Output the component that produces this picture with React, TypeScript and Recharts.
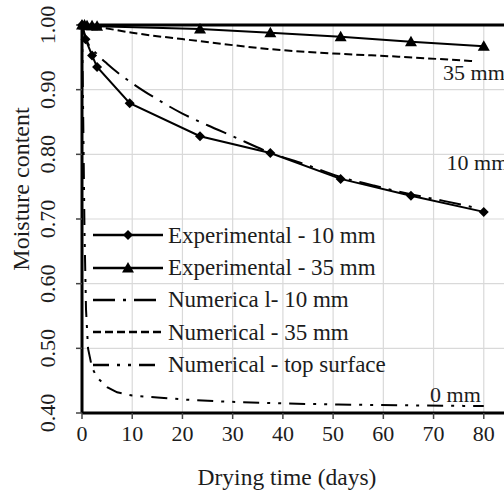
import React from 'react';
import {
  LineChart, Line, XAxis, YAxis, CartesianGrid, ReferenceLine, ReferenceDot,
} from 'recharts';

// drying time (days) and moisture content
const exp10Days = [0, 0.7, 2, 3, 9.5, 23.5, 37.5, 51.5, 65.5, 80];
const exp10Moisture = [1.0, 0.978, 0.953, 0.935, 0.879, 0.828, 0.802, 0.762, 0.736, 0.711];

const exp35Days = [0, 0.5, 1, 2, 3, 23.5, 37.5, 51.5, 65.5, 80];
const exp35Moisture = [1.0, 1.0, 0.999, 0.999, 0.998, 0.994, 0.988, 0.982, 0.974, 0.967];

const num10Days = [0, 1, 3, 5, 10, 15, 20, 25, 30, 37, 45, 51, 58, 65, 72, 78];
const num10Moisture = [1.0, 0.975, 0.955, 0.94, 0.91, 0.885, 0.863, 0.845, 0.828, 0.804, 0.783, 0.766, 0.752, 0.739, 0.728, 0.718];

const num35Days = [0, 3, 10, 23.5, 37, 50, 63, 78];
const num35Moisture = [1.0, 0.997, 0.988, 0.975, 0.963, 0.956, 0.951, 0.944];

const topDays = [0, 0.25, 0.5, 0.8, 1.2, 2, 3, 5, 7, 10, 15, 20, 27, 39, 51, 63, 76, 80];
const topMoisture = [1.0, 0.85, 0.68, 0.56, 0.5, 0.47, 0.455, 0.44, 0.432, 0.427, 0.424, 0.421, 0.418, 0.415, 0.413, 0.412, 0.411, 0.411];

const xTicks = [0, 10, 20, 30, 40, 50, 60, 70, 80, 90];
const yTicks = [0.4, 0.5, 0.6, 0.7, 0.8, 0.9, 1.0];

const annotations = [
  { text: '35 mm', x: 71.9, y: 0.915 },
  { text: '10 mm', x: 72.6, y: 0.776 },
  { text: '0 mm', x: 69.3, y: 0.417 },
];

const toPoints = (days: number[], values: number[]) =>
  days.map((d, i) => ({ x: d, y: values[i] }));

const FONT = '"Liberation Serif", "Times New Roman", serif';
const INK = '#1c1c1c';

const Diamond = (props: any) => {
  const { cx, cy } = props;
  if (cx == null || cy == null) return null;
  const s = 5;
  return <path d={`M${cx},${cy - s}L${cx + s},${cy}L${cx},${cy + s}L${cx - s},${cy}Z`} fill="#000" />;
};

const Triangle = (props: any) => {
  const { cx, cy } = props;
  if (cx == null || cy == null) return null;
  return <path d={`M${cx},${cy - 6}L${cx + 6},${cy + 4.5}L${cx - 6},${cy + 4.5}Z`} fill="#000" />;
};

const XTick = ({ x, y, payload }: any) => (
  <text x={x} y={y} dy={22} textAnchor="middle" fontFamily={FONT} fontSize={22} fill={INK}>
    {payload.value}
  </text>
);

const YTick = ({ x, y, payload }: any) => (
  <text
    transform={`translate(${x - 21},${y}) rotate(-90)`}
    textAnchor="middle"
    fontFamily={FONT}
    fontSize={22}
    fill={INK}
  >
    {payload.value.toFixed(2)}
  </text>
);

const legendRows = [
  { name: 'Experimental - 10 mm', dash: undefined, marker: 'diamond' },
  { name: 'Experimental - 35 mm', dash: undefined, marker: 'triangle' },
  { name: 'Numerica l- 10 mm', dash: '22 8 3 8', marker: null },
  { name: 'Numerical - 35 mm', dash: '8 4', marker: null },
  { name: 'Numerical - top surface', dash: '16 8 3 8 3 8', marker: null },
];

const LegendBox = () => (
  <div style={{ position: 'absolute', left: 93, top: 219, fontFamily: FONT, fontSize: 23, color: INK }}>
    {legendRows.map((row) => (
      <div key={row.name} style={{ display: 'flex', alignItems: 'center', height: 32.4 }}>
        <svg width={75} height={20} style={{ flex: 'none' }}>
          <line x1={0} y1={10} x2={70} y2={10} stroke="#000" strokeWidth={2.5} strokeDasharray={row.dash} />
          {row.marker === 'diamond' && <Diamond cx={35} cy={10} />}
          {row.marker === 'triangle' && <Triangle cx={35} cy={10} />}
        </svg>
        <span style={{ whiteSpace: 'nowrap', lineHeight: '23px' }}>{row.name}</span>
      </div>
    ))}
  </div>
);

const App: React.FC = () => (
  <div style={{ position: 'absolute', left: 0, top: 0, width: 504, height: 498, overflow: 'hidden', background: '#fff' }}>
    <LineChart width={560} height={498} margin={{ top: 25, right: 26, bottom: 25, left: 25 }}>
      <CartesianGrid stroke="#d9d9d9" strokeWidth={1.2} />
      <XAxis
        type="number"
        dataKey="x"
        domain={[0, 90]}
        ticks={xTicks}
        interval={0}
        height={60}
        tickSize={6}
        tickMargin={0}
        axisLine={{ stroke: '#000', strokeWidth: 3 }}
        tickLine={{ stroke: '#444', strokeWidth: 1.5 }}
        tick={<XTick />}
        label={{
          content: ({ viewBox }: any) => (
            <text x={287} y={viewBox.y + 72} textAnchor="middle" fontFamily={FONT} fontSize={23.5} fill={INK}>
              Drying time (days)
            </text>
          ),
        }}
      />
      <YAxis
        type="number"
        dataKey="y"
        domain={[0.4, 1.0]}
        ticks={yTicks}
        interval={0}
        width={57}
        tickSize={6}
        tickMargin={0}
        axisLine={{ stroke: '#000', strokeWidth: 3 }}
        tickLine={{ stroke: '#444', strokeWidth: 1.5 }}
        tick={<YTick />}
        label={{
          content: ({ viewBox }: any) => (
            <text
              transform={`translate(${viewBox.x + 4},189) rotate(-90)`}
              textAnchor="middle"
              fontFamily={FONT}
              fontSize={24}
              fill={INK}
            >
              Moisture content
            </text>
          ),
        }}
      />
      <ReferenceLine y={1} stroke="#000" strokeWidth={3} />
      <Line
        name="Numerical - top surface"
        data={toPoints(topDays, topMoisture)}
        dataKey="y"
        type="linear"
        stroke="#000"
        strokeWidth={2}
        strokeDasharray="16 8 3 8 3 8"
        dot={false}
        isAnimationActive={false}
      />
      <Line
        name="Numerical - 35 mm"
        data={toPoints(num35Days, num35Moisture)}
        dataKey="y"
        type="monotone"
        stroke="#000"
        strokeWidth={2}
        strokeDasharray="8 4"
        dot={false}
        isAnimationActive={false}
      />
      <Line
        name="Numerica l- 10 mm"
        data={toPoints(num10Days, num10Moisture)}
        dataKey="y"
        type="monotone"
        stroke="#000"
        strokeWidth={2}
        strokeDasharray="22 8 3 8"
        dot={false}
        isAnimationActive={false}
      />
      <Line
        name="Experimental - 35 mm"
        data={toPoints(exp35Days, exp35Moisture)}
        dataKey="y"
        type="linear"
        stroke="#000"
        strokeWidth={2}
        dot={<Triangle />}
        isAnimationActive={false}
      />
      <Line
        name="Experimental - 10 mm"
        data={toPoints(exp10Days, exp10Moisture)}
        dataKey="y"
        type="linear"
        stroke="#000"
        strokeWidth={2}
        dot={<Diamond />}
        isAnimationActive={false}
      />
      {annotations.map((a) => (
        <ReferenceDot
          key={a.text}
          x={a.x}
          y={a.y}
          r={0}
          fill="none"
          stroke="none"
          ifOverflow="visible"
          label={{
            content: ({ viewBox }: any) => (
              <text x={viewBox.x} y={viewBox.y} textAnchor="start" fontFamily={FONT} fontSize={22} fill={INK}>
                {a.text}
              </text>
            ),
          }}
        />
      ))}
    </LineChart>
    <LegendBox />
  </div>
);

export default App;
